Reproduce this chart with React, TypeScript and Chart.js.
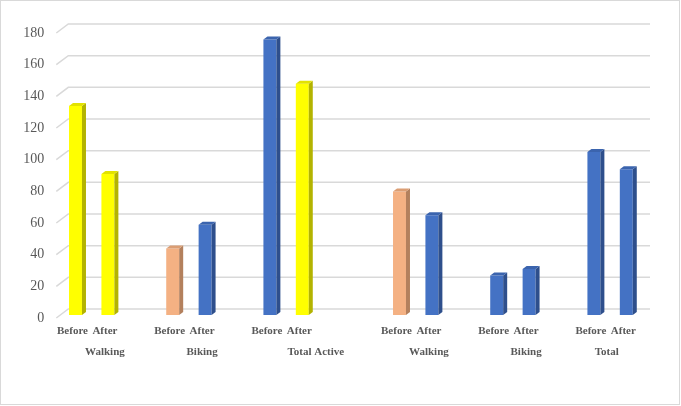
import React, { useEffect, useRef } from "react";
import { Chart, registerables } from "chart.js";

Chart.register(...registerables);

// ---- data ----
const groupNames = ["Walking", "Biking", "Total Active", "Walking", "Biking", "Total"];
const periodLabels = ["Before", "After"];
const beforeValues = [132, 42, 174, 78, 25, 103];
const afterValues = [89, 57, 146, 63, 29, 92];
const beforeColors = ["yellow", "peach", "blue", "peach", "blue", "blue"];
const afterColors = ["yellow", "blue", "yellow", "blue", "blue", "blue"];
const gapSlots = [1, 1, 2, 1, 1, 0];
const yTicks = [0, 20, 40, 60, 80, 100, 120, 140, 160, 180];

// ---- styles ----
const palette: Record<string, { front: string; side: string; top: string }> = {
  yellow: { front: "#FFFF00", side: "#B3B300", top: "#E2E200" },
  blue: { front: "#4472C4", side: "#2E4F8C", top: "#3B64AE" },
  peach: { front: "#F4B183", side: "#B3805D", top: "#DB9E74" },
};
const groupLabelPad = [0, 0, 12, 0, 0, -12];

type Slot = { label: string[]; value: number | null; color: string | null };

function buildSlots(): Slot[] {
  const slots: Slot[] = [];
  groupNames.forEach((name, g) => {
    const pad = " ".repeat(Math.abs(groupLabelPad[g]));
    const groupText = groupLabelPad[g] >= 0 ? pad + name : name + pad;
    slots.push({ label: [periodLabels[0]], value: beforeValues[g], color: beforeColors[g] });
    slots.push({ label: [periodLabels[1], groupText], value: afterValues[g], color: afterColors[g] });
    for (let k = 0; k < gapSlots[g]; k++) slots.push({ label: [""], value: null, color: null });
  });
  return slots;
}

export default function App() {
  const ref = useRef<HTMLCanvasElement | null>(null);

  useEffect(() => {
    if (!ref.current) return;
    const slots = buildSlots();
    const labels = slots.map((s) => s.label);
    const data = slots.map((s) => s.value);
    const fronts = slots.map((s) => (s.color ? palette[s.color].front : "transparent"));

    const gridPlugin = {
      id: "grid3d",
      beforeDatasetsDraw(chart: any) {
        const ys = chart.scales.y;
        const area = chart.chartArea;
        const ctx = chart.ctx;
        ctx.save();
        ctx.strokeStyle = "#D9D9D9";
        ctx.lineWidth = 1.5;
        yTicks.forEach((v) => {
          const py = ys.getPixelForValue(v);
          ctx.beginPath();
          ctx.moveTo(area.left - 3, py + 3);
          ctx.lineTo(area.left + 9, py - 6);
          ctx.lineTo(area.right + 7.5, py - 6);
          ctx.stroke();
        });
        ctx.restore();
      },
    };

    const barPlugin = {
      id: "bar3d",
      afterDatasetsDraw(chart: any) {
        const meta = chart.getDatasetMeta(0);
        const ctx = chart.ctx;
        const dx = 4;
        const dy = 3;
        ctx.save();
        meta.data.forEach((el: any, i: number) => {
          const s = slots[i];
          if (s.value == null || !s.color) return;
          const p = el.getProps(["x", "y", "base", "width"], true);
          const l = p.x - p.width / 2;
          const r = p.x + p.width / 2;
          const c = palette[s.color];
          ctx.fillStyle = c.side;
          ctx.beginPath();
          ctx.moveTo(r, p.base);
          ctx.lineTo(r, p.y);
          ctx.lineTo(r + dx, p.y - dy);
          ctx.lineTo(r + dx, p.base - dy);
          ctx.closePath();
          ctx.fill();
          ctx.fillStyle = c.top;
          ctx.beginPath();
          ctx.moveTo(l, p.y);
          ctx.lineTo(r, p.y);
          ctx.lineTo(r + dx, p.y - dy);
          ctx.lineTo(l + dx, p.y - dy);
          ctx.closePath();
          ctx.fill();
        });
        ctx.restore();
      },
    };

    const chart = new Chart(ref.current, {
      type: "bar",
      data: {
        labels,
        datasets: [
          {
            data,
            backgroundColor: fronts,
            borderWidth: 0,
            barPercentage: 0.4,
            categoryPercentage: 1,
            skipNull: true,
          } as any,
        ],
      },
      options: {
        responsive: false,
        animation: false,
        events: [],
        layout: { padding: { left: 0, right: 38.5, top: 30, bottom: 0 } },
        plugins: { legend: { display: false }, tooltip: { enabled: false } },
        scales: {
          x: {
            grid: { display: false, drawTicks: false },
            border: { display: false },
            afterFit: (s: any) => {
              s.height = 91;
            },
            ticks: {
              autoSkip: false,
              maxRotation: 0,
              minRotation: 0,
              padding: 5.5,
              labelOffset: -3,
              color: "#595959",
              font: { family: "'Liberation Serif', 'Times New Roman', serif", size: 11, weight: "bold", lineHeight: "21px" } as any,
              callback: (_v: any, i: number) => labels[i],
            },
          },
          y: {
            min: 0,
            max: 180,
            grid: { display: false, drawTicks: false },
            border: { display: false },
            afterFit: (s: any) => {
              s.width = 59.3;
            },
            ticks: {
              stepSize: 20,
              padding: 15,
              labelOffset: 3,
              color: "#595959",
              font: { family: "'Liberation Serif', 'Times New Roman', serif", size: 14 },
            },
          },
        },
      },
      plugins: [gridPlugin, barPlugin],
    });
    return () => chart.destroy();
  }, []);

  return (
    <div style={{ position: "fixed", left: 0, top: 0, width: 681, height: 406, background: "#fff" }}>
      <div
        style={{
          position: "absolute",
          left: 0,
          top: 0,
          width: 680,
          height: 405,
          border: "1px solid #D9D9D9",
          boxSizing: "border-box",
        }}
      />
      <canvas ref={ref} width={681} height={406} style={{ position: "absolute", left: 0, top: 0, display: "block" }} />
    </div>
  );
}
